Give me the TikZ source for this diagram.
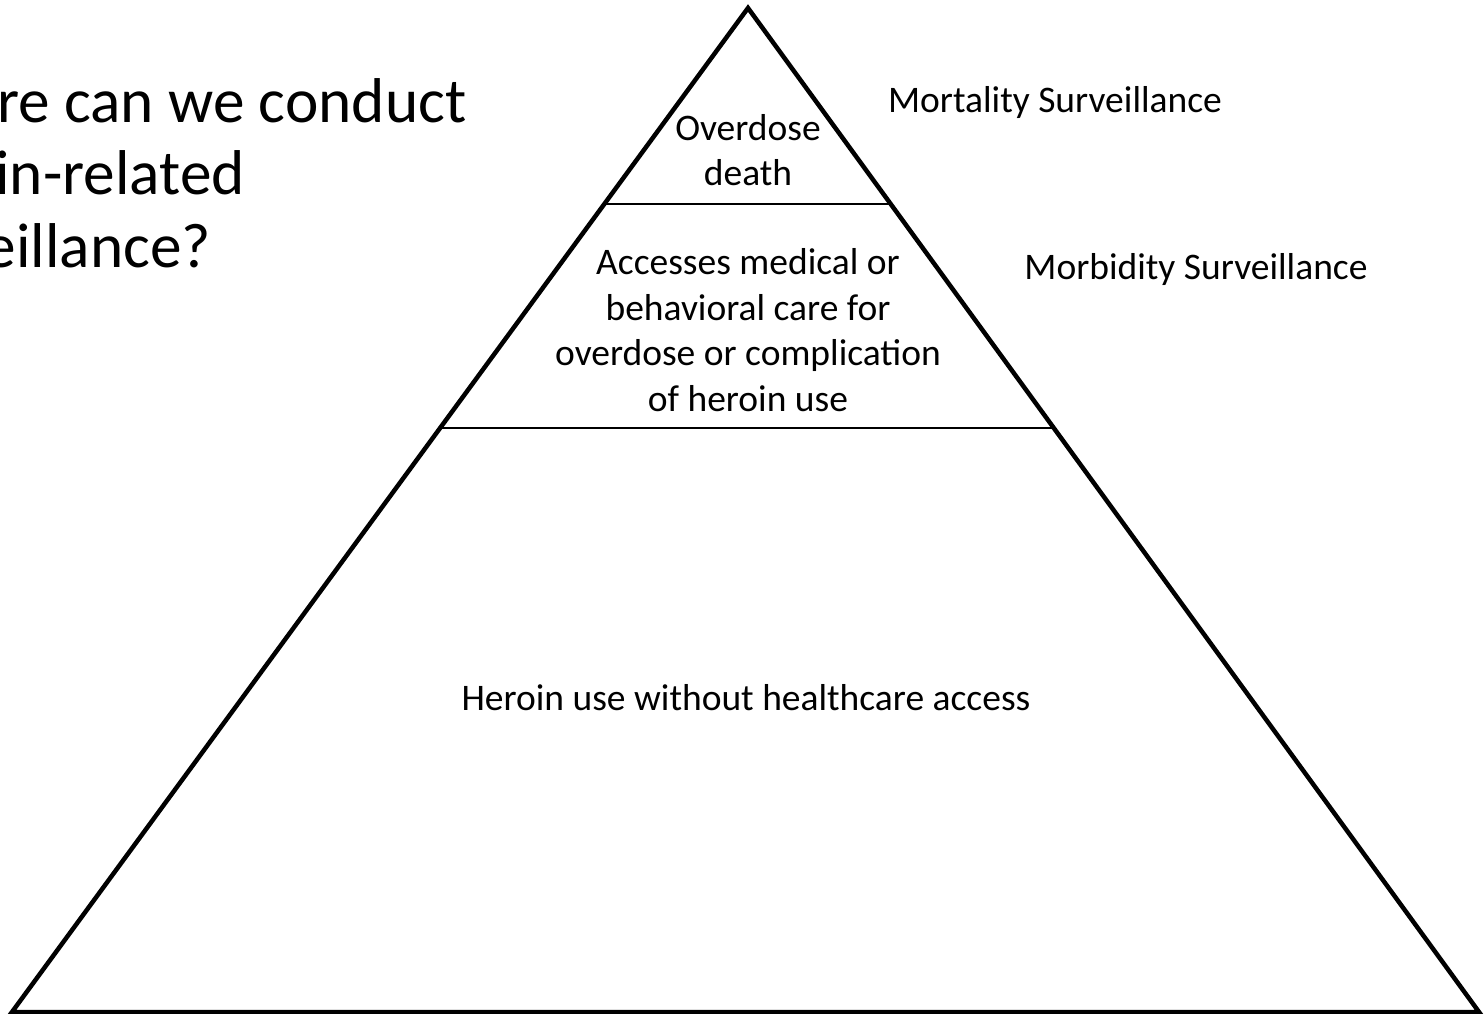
\documentclass[tikz,border=0pt]{standalone}
\usepackage{fontspec}
\setmainfont{Carlito}
\usetikzlibrary{calc}
\newcommand{\labelsize}{\fontsize{37.5}{45.5}\selectfont}
\newcommand{\titlesize}{\fontsize{63.3}{72.5}\selectfont}
\begin{document}
\begin{tikzpicture}[x=1pt,y=-1pt,
		side/.style={line width=4.5pt,line join=miter},
		divider/.style={line width=2pt},
		level/.style={align=center,inner sep=0pt,font=\labelsize},
		note/.style={inner sep=0pt,font=\labelsize,anchor=base}]
		\useasboundingbox (0,0) rectangle (1484,1013);
		\clip (0,0) rectangle (1484,1013);
		% pyramid
		\coordinate (apex) at (748,8);
		\coordinate (bl) at (12,1012);
		\coordinate (br) at (1479,1012);
		\draw[side] (bl) -- (apex) -- (br) -- cycle;
		\draw[divider] ($(apex)!0.1952!(bl)$) -- ($(apex)!0.1952!(br)$);
		\draw[divider] ($(apex)!0.4183!(bl)$) -- ($(apex)!0.4183!(br)$);
		
		% levels
		\node[level] (death) at (748,150) {Overdose\\death};
		\node[level] (care) at (748,330) {Accesses medical or\\behavioral care for\\overdose or complication\\of heroin use};
		\node[level] (use) at (746,698) {Heroin use without healthcare access};
		
		% surveillance
		\node[note] (mortality) at (1055,112) {Mortality Surveillance};
		\node[note] (morbidity) at (1196,279) {Morbidity Surveillance};
		
		% title
		\node[inner sep=0pt,align=left,anchor=north west,font=\titlesize] (title) at (-124,78) {Where can we conduct\\heroin-related\\surveillance?};
	\end{tikzpicture}
\end{document}
